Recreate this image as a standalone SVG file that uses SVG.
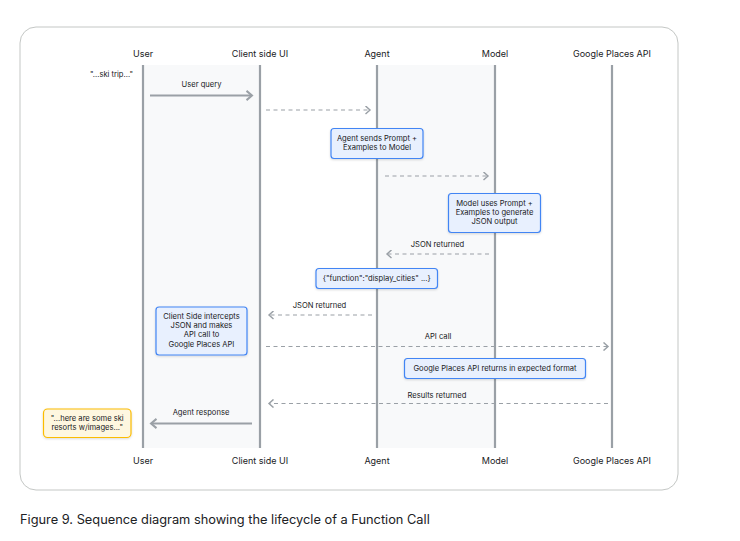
<svg xmlns="http://www.w3.org/2000/svg" width="740" height="541" viewBox="0 0 740 541">
<defs>
<style>
.lbl{font-family:Inter,Roboto,"Liberation Sans",sans-serif;font-size:9px;fill:#202124;text-anchor:middle}
.t{font-family:Inter,Roboto,"Liberation Sans",sans-serif;font-size:7.6px;fill:#202124;text-anchor:middle}
.life{stroke:#9aa0a6;stroke-width:2.2}
.solid{stroke:#9aa0a6;stroke-width:2;fill:none}
.dash{stroke:#9aa0a6;stroke-width:1.2;stroke-dasharray:4 3.5;fill:none}
.box{fill:#e8f0fe;stroke:#4285f4;stroke-width:1.2}
.ybox{fill:#fef7e0;stroke:#fbbc04;stroke-width:1.2}
</style>
<marker id="ah" viewBox="0 0 10 10" refX="8" refY="5" markerWidth="9" markerHeight="9" orient="auto-start-reverse" markerUnits="userSpaceOnUse">
<path d="M3 0.5 L8 5 L3 9.5" fill="none" stroke="#9aa0a6" stroke-width="1.6"/>
</marker>
<marker id="ahs" viewBox="0 0 10 10" refX="8" refY="5" markerWidth="11" markerHeight="11" orient="auto-start-reverse" markerUnits="userSpaceOnUse">
<path d="M3 0.8 L8 5 L3 9.2" fill="none" stroke="#9aa0a6" stroke-width="1.8"/>
</marker>
<filter id="sh" x="-20%" y="-20%" width="140%" height="160%">
<feDropShadow dx="0" dy="1" stdDeviation="1.2" flood-color="#000" flood-opacity="0.15"/>
</filter>
</defs>
<rect width="740" height="541" fill="#fff"/>
<rect x="20" y="27" width="658" height="463" rx="16" fill="#fff" stroke="#c4c7c5" stroke-width="1"/>
<g id="bands">
<rect x="143" y="65" width="117" height="383" fill="#f8f9fa"/>
<rect x="377" y="65" width="118" height="383" fill="#f8f9fa"/>
</g>
<g id="user">
<line class="life" x1="143" y1="65" x2="143" y2="448"/>
<text class="lbl" x="143" y="57">User</text>
<text class="lbl" x="143" y="464">User</text>
</g>
<g id="client">
<line class="life" x1="260" y1="65" x2="260" y2="448"/>
<text class="lbl" x="260" y="57">Client side UI</text>
<text class="lbl" x="260" y="464">Client side UI</text>
</g>
<g id="agent">
<line class="life" x1="377" y1="65" x2="377" y2="448"/>
<text class="lbl" x="377" y="57">Agent</text>
<text class="lbl" x="377" y="464">Agent</text>
</g>
<g id="model">
<line class="life" x1="495" y1="65" x2="495" y2="448"/>
<text class="lbl" x="495" y="57">Model</text>
<text class="lbl" x="495" y="464">Model</text>
</g>
<g id="places">
<line class="life" x1="612" y1="65" x2="612" y2="448"/>
<text class="lbl" x="612" y="57">Google Places API</text>
<text class="lbl" x="612" y="464">Google Places API</text>
</g>
<g id="connectors">
<line class="solid" x1="150" y1="95.5" x2="252" y2="95.5" marker-end="url(#ahs)"/>
<line class="dash" x1="266" y1="110" x2="370" y2="110" marker-end="url(#ah)"/>
<line class="dash" x1="385" y1="176" x2="488" y2="176" marker-end="url(#ah)"/>
<line class="dash" x1="489" y1="254" x2="387" y2="254" marker-end="url(#ah)"/>
<line class="dash" x1="372" y1="315" x2="269" y2="315" marker-end="url(#ah)"/>
<line class="dash" x1="266" y1="346.5" x2="608" y2="346.5" marker-end="url(#ah)"/>
<line class="dash" x1="608" y1="403.5" x2="269" y2="403.5" marker-end="url(#ah)"/>
<line class="solid" x1="252" y1="423.5" x2="151" y2="423.5" marker-end="url(#ahs)"/>
<text class="t" x="201.5" y="87">User query</text>
<text class="t" x="437.5" y="246.5">JSON returned</text>
<text class="t" x="319.5" y="307.5">JSON returned</text>
<text class="t" x="438" y="339">API call</text>
<text class="t" x="437" y="397.5">Results returned</text>
<text class="t" x="201" y="415">Agent response</text>
</g>
<g id="ski-trip">
<text class="t" x="133" y="76.5" style="text-anchor:end">"...ski trip..."</text>
</g>
<g id="agent-sends">
<rect class="box" x="331" y="128.5" width="92" height="30" rx="3" filter="url(#sh)"/>
<text class="t" x="377" y="140.5">Agent sends Prompt +</text>
<text class="t" x="377" y="149.5">Examples to Model</text>
</g>
<g id="model-uses">
<rect class="box" x="448.5" y="193.5" width="92" height="39" rx="3" filter="url(#sh)"/>
<text class="t" x="494.5" y="206">Model uses Prompt +</text>
<text class="t" x="494.5" y="215">Examples to generate</text>
<text class="t" x="494.5" y="224">JSON output</text>
</g>
<g id="function-json">
<rect class="box" x="316" y="268.5" width="121.5" height="20" rx="3" filter="url(#sh)"/>
<text class="t" x="376.7" y="281">{"function":"display_cities" ...}</text>
</g>
<g id="client-intercepts">
<rect class="box" x="156" y="307" width="91" height="48" rx="3" filter="url(#sh)"/>
<text class="t" x="201.5" y="318.5">Client Side intercepts</text>
<text class="t" x="201.5" y="327.5">JSON and makes</text>
<text class="t" x="201.5" y="337">API call to</text>
<text class="t" x="201.5" y="346.5">Google Places API</text>
</g>
<g id="places-returns">
<rect class="box" x="404.5" y="358.5" width="181" height="20" rx="3" filter="url(#sh)"/>
<text class="t" x="495" y="371">Google Places API returns in expected format</text>
</g>
<g id="agent-reply">
<rect class="ybox" x="43.5" y="409" width="87.5" height="28.5" rx="4" filter="url(#sh)"/>
<text class="t" x="87.2" y="420.5">"...here are some ski</text>
<text class="t" x="87.2" y="430">resorts w/images..."</text>
</g>
<text x="20" y="523.5" font-family="Inter,Roboto,'Liberation Sans',sans-serif" font-size="12.8" fill="#202124">Figure 9. Sequence diagram showing the lifecycle of a Function Call</text>
</svg>
